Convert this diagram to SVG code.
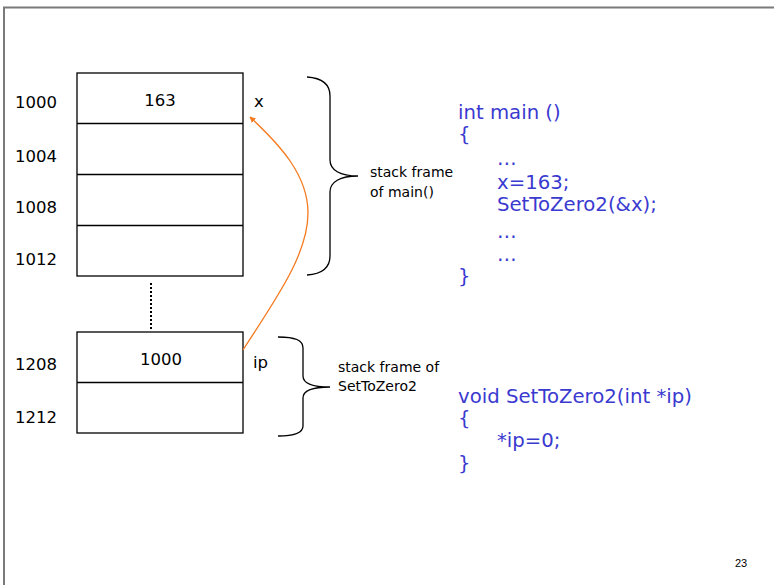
<svg xmlns="http://www.w3.org/2000/svg" width="774" height="585" viewBox="0 0 774 585">
  <style>
    .cell { fill: #ffffff; stroke: #000000; stroke-width: 1.3; }
    .div { stroke: #000000; stroke-width: 1.3; }
    .brace { fill: none; stroke: #000000; stroke-width: 1.3; }
    .addr { font-family: "DejaVu Sans", "Liberation Sans", sans-serif; font-size: 16.5px; fill: #000000; }
    .note { font-family: "DejaVu Sans", "Liberation Sans", sans-serif; font-size: 14px; fill: #000000; }
    .code { font-family: "DejaVu Sans", "Liberation Sans", sans-serif; font-size: 19.7px; fill: #3a3ad0; }
    .ptr { fill: none; stroke: #f47b20; stroke-width: 1.3; }
  </style>
  <defs>
    <marker id="arrow" viewBox="0 0 10 10" refX="9" refY="5" markerWidth="6" markerHeight="6" markerUnits="userSpaceOnUse" orient="auto">
      <path d="M0,0 L10,5 L0,10 z" fill="#f47b20"/>
    </marker>
  </defs>

  <rect x="0" y="0" width="774" height="585" fill="#ffffff"/>
  <!-- page frame -->
  <g id="frame" stroke="#7a7a7a" stroke-width="2" fill="none">
    <line x1="3" y1="7.5" x2="774" y2="7.5"/>
    <line x1="4" y1="7" x2="4" y2="585"/>
  </g>

  <!-- stack frame of main() -->
  <g id="main-frame">
    <rect class="cell" x="77" y="73" width="166" height="203"/>
    <line class="div" x1="77" y1="123.5" x2="243" y2="123.5"/>
    <line class="div" x1="77" y1="174.5" x2="243" y2="174.5"/>
    <line class="div" x1="77" y1="225.5" x2="243" y2="225.5"/>
    <text class="addr" x="15" y="108">1000</text>
    <text class="addr" x="15" y="162">1004</text>
    <text class="addr" x="15" y="213">1008</text>
    <text class="addr" x="15" y="265">1012</text>
    <text class="addr" x="160" y="106" text-anchor="middle">163</text>
    <text class="addr" x="254" y="107">x</text>
  </g>

  <!-- gap between frames -->
  <line id="gap" x1="151" y1="283" x2="151" y2="330" stroke="#000000" stroke-width="2" stroke-dasharray="2,2"/>

  <!-- stack frame of SetToZero2 -->
  <g id="callee-frame">
    <rect class="cell" x="77" y="332" width="166" height="101"/>
    <line class="div" x1="77" y1="382.5" x2="243" y2="382.5"/>
    <text class="addr" x="15" y="370">1208</text>
    <text class="addr" x="15" y="423">1212</text>
    <text class="addr" x="161" y="365" text-anchor="middle">1000</text>
    <text class="addr" x="253" y="368">ip</text>
  </g>

  <!-- braces and notes -->
  <g id="main-brace">
    <path class="brace" d="M307,77 C322,78 330,84 330,96 L330,160 C330,170 340,176 358,176 C340,176 330,182 330,192 L330,256 C330,268 322,274 307,275"/>
    <text class="note" x="370" y="177">stack frame</text>
    <text class="note" x="370" y="197">of main()</text>
  </g>
  <g id="callee-brace">
    <path class="brace" d="M278,337 C295,337 303,340 303,348 L303,376 C303,383 312,387 330,387 C312,387 303,391 303,398 L303,426 C303,433 295,436 278,436"/>
    <text class="note" x="338" y="372">stack frame of</text>
    <text class="note" x="338" y="391">SetToZero2</text>
  </g>

  <!-- pointer ip -> x -->
  <g id="connectors">
    <path class="ptr" marker-end="url(#arrow)" d="M243,350 C275,300 308,255 308,213 C308,175 280,145 250,117"/>
  </g>

  <!-- code listing -->
  <g id="code-main">
    <text class="code" x="458" y="119">int main ()</text>
    <text class="code" x="458" y="141">{</text>
    <text class="code" x="497" y="165">…</text>
    <text class="code" x="497" y="189">x=163;</text>
    <text class="code" x="497" y="211">SetToZero2(&amp;x);</text>
    <text class="code" x="497" y="238">…</text>
    <text class="code" x="497" y="261">…</text>
    <text class="code" x="458" y="283">}</text>
  </g>
  <g id="code-callee">
    <text class="code" x="458" y="403">void SetToZero2(int *ip)</text>
    <text class="code" x="458" y="425">{</text>
    <text class="code" x="497" y="447">*ip=0;</text>
    <text class="code" x="458" y="470">}</text>
  </g>

  <text id="page" x="735" y="567" font-family="Liberation Sans, Arial, sans-serif" font-size="11" fill="#000000">23</text>
</svg>
